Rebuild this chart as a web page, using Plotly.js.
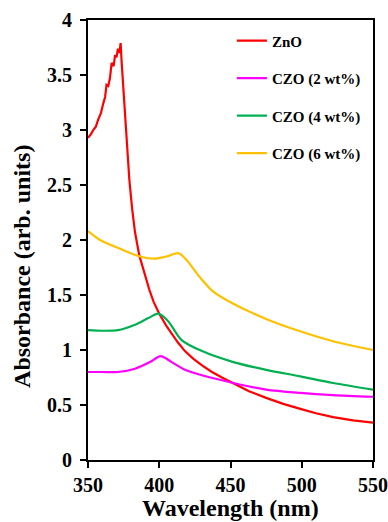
<!DOCTYPE html>
<html>
<head>
<meta charset="utf-8">
<script src="https://cdn.plot.ly/plotly-3.0.1.min.js"></script>
<style>html,body{margin:0;padding:0;background:#fff;}#chart{width:388px;height:522px;}</style>
</head>
<body>
<div id="chart"></div>
<script>
// Wavelength (nm) and absorbance values
const znoX = [350, 352, 353.7, 355.5, 357, 359, 360.7, 362, 363, 364.2, 365.4, 366.6, 368, 369, 370, 371, 372, 372.9, 373.6, 375.5, 377, 379, 381, 383, 386, 390, 393, 396, 400, 405, 409, 413, 418, 424, 430, 437, 444, 452, 463, 475, 487, 499, 510, 522, 536, 550];
const znoY = [2.93, 2.96, 3.00, 3.03, 3.09, 3.15, 3.24, 3.30, 3.41, 3.40, 3.47, 3.61, 3.58, 3.68, 3.66, 3.74, 3.70, 3.79, 3.62, 3.25, 2.88, 2.55, 2.28, 2.07, 1.86, 1.67, 1.55, 1.44, 1.33, 1.22, 1.14, 1.07, 0.99, 0.92, 0.86, 0.80, 0.75, 0.70, 0.625, 0.565, 0.51, 0.465, 0.425, 0.39, 0.36, 0.34];

const czo2X = [350, 360, 371, 383, 393.5, 401, 408.7, 418, 430, 452, 475, 499, 522, 550];
const czo2Y = [0.80, 0.80, 0.80, 0.83, 0.89, 0.945, 0.89, 0.82, 0.77, 0.70, 0.64, 0.61, 0.59, 0.575];

const czo4X = [350, 360, 371, 383, 392.3, 399.5, 406.4, 415.7, 430, 452, 475, 499, 522, 550];
const czo4Y = [1.18, 1.175, 1.18, 1.23, 1.29, 1.33, 1.26, 1.09, 0.99, 0.89, 0.82, 0.76, 0.70, 0.64];

const czo6X = [350, 358.4, 372.5, 386.5, 397, 405, 413.4, 419, 428.6, 437.9, 452, 475.4, 498.8, 522, 550];
const czo6Y = [2.08, 2.00, 1.92, 1.85, 1.83, 1.85, 1.88, 1.82, 1.66, 1.53, 1.42, 1.28, 1.17, 1.08, 1.00];

const names = ['ZnO', 'CZO (2 wt%)', 'CZO (4 wt%)', 'CZO (6 wt%)'];
const colors = ['#FF0000', '#FF00FF', '#00B050', '#FFC000'];
const xTicks = [350, 400, 450, 500, 550];
const yTicks = [0, 0.5, 1, 1.5, 2, 2.5, 3, 3.5, 4];
const xTitle = 'Wavelength (nm)';
const yTitle = 'Absorbance (arb. units)';

const font = {family: 'Times New Roman, Liberation Serif, serif', color: '#000', weight: 'bold'};
const xs = [znoX, czo2X, czo4X, czo6X];
const ys = [znoY, czo2Y, czo4Y, czo6Y];

const traces = xs.map((x, i) => ({
  x: x, y: ys[i], name: names[i], type: 'scatter', mode: 'lines',
  legendgroup: 'g' + i,
  line: {color: colors[i], width: 2.2, shape: i === 0 ? 'linear' : 'spline', smoothing: 0.8}
}));

const layout = {
  width: 388, height: 522,
  margin: {l: 88, r: 15, t: 20, b: 62},
  paper_bgcolor: '#fff', plot_bgcolor: '#fff',
  font: Object.assign({}, font, {size: 17}),
  showlegend: true,
  legend: {
    x: 0.505, y: 0.99, xanchor: 'left', yanchor: 'top',
    bgcolor: 'rgba(0,0,0,0)', borderwidth: 0,
    font: Object.assign({}, font, {size: 15}),
    itemwidth: 30, tracegroupgap: 15, traceorder: 'grouped'
  },
  xaxis: {
    range: [350, 550], tickvals: xTicks, ticktext: xTicks.map(String),
    showgrid: false, zeroline: false,
    showline: true, linecolor: '#000', linewidth: 2, mirror: true,
    ticks: 'outside', ticklen: 6, tickwidth: 2, tickcolor: '#000',
    tickfont: Object.assign({}, font, {size: 20})
  },
  yaxis: {
    range: [0, 4], tickvals: yTicks, ticktext: yTicks.map(String),
    showgrid: false, zeroline: false,
    showline: true, linecolor: '#000', linewidth: 2, mirror: true,
    ticks: 'outside', ticklen: 6, tickwidth: 2, tickcolor: '#000',
    ticklabelstandoff: 4,
    tickfont: Object.assign({}, font, {size: 20})
  },
  annotations: [
    {text: xTitle, xref: 'paper', yref: 'paper', x: 0.5, y: -0.11, xanchor: 'center', yanchor: 'middle',
     showarrow: false, font: Object.assign({}, font, {size: 24})},
    {text: yTitle, xref: 'paper', yref: 'paper', x: -0.2316, y: 0.441, xanchor: 'center', yanchor: 'middle',
     textangle: -90, showarrow: false, font: Object.assign({}, font, {size: 24})}
  ]
};

Plotly.newPlot('chart', traces, layout, {staticPlot: true, displayModeBar: false});
</script>
</body>
</html>
